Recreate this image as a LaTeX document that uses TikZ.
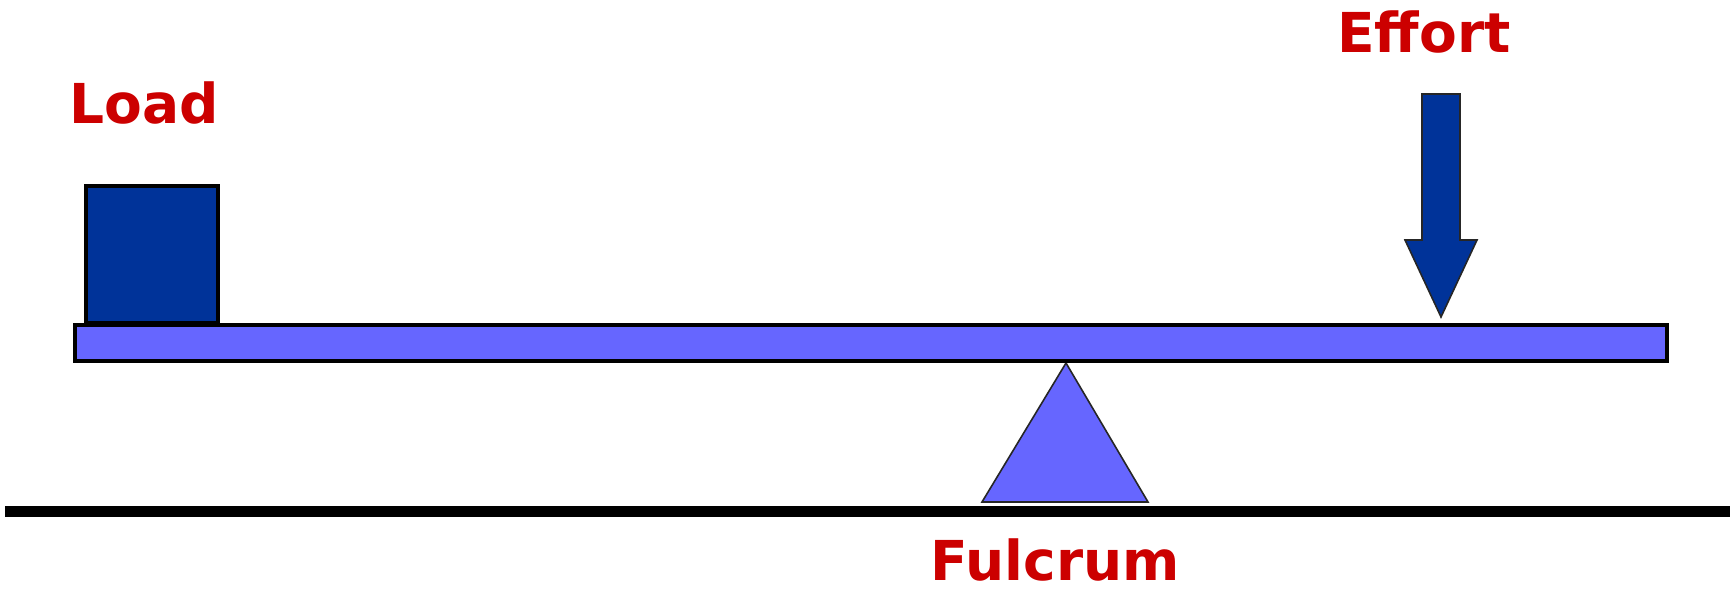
\documentclass[tikz,border=0pt]{standalone}
\usepackage{fontspec}
\setmainfont{DejaVu Sans}
\definecolor{labelred}{HTML}{CC0000}
\definecolor{darkblue}{HTML}{003399}
\definecolor{lightblue}{HTML}{6666FF}
\begin{document}
\begin{tikzpicture}[x=1pt,y=-1pt,
  lbl/.style={text=labelred,font=\fontsize{55}{60}\selectfont\bfseries,anchor=base,inner sep=0pt},
  thickborder/.style={draw=black,line width=4pt},
  thinborder/.style={draw=black!85,line width=1.6pt,line join=miter}]
\useasboundingbox (0,0) rectangle (1733,591);
% ground
\draw[line width=11pt] (5,511) -- (1730,511);
% fulcrum
\filldraw[fill=lightblue,thinborder] (982,502) -- (1066,363) -- (1148,502) -- cycle;
% beam
\filldraw[fill=lightblue,thickborder] (75,325) rectangle (1667,361);
% load box
\filldraw[fill=darkblue,thickborder] (86,186) rectangle (218,323);
% effort arrow
\filldraw[fill=darkblue,thinborder] (1422,94) -- (1460,94) -- (1460,240) -- (1477,240) -- (1441,317) -- (1405,240) -- (1422,240) -- cycle;
% labels
\node[lbl] (load) at (144,124) {Load};
\node[lbl] (effort) at (1424,53) {Effort};
\node[lbl] (fulcrum) at (1055,580) {Fulcrum};
\end{tikzpicture}
\end{document}
